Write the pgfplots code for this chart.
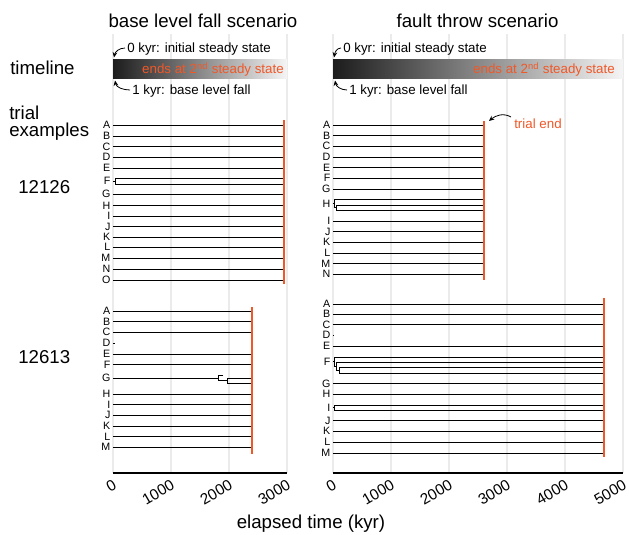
\documentclass[border=0pt]{standalone}
\usepackage{fontspec}
\setmainfont{Liberation Sans}
\usepackage{pgfplots}
\pgfplotsset{compat=1.18}
\usetikzlibrary{arrows.meta}
\definecolor{tlred}{RGB}{240,88,40}
\definecolor{gridgray}{RGB}{235,235,235}
\definecolor{tldark}{RGB}{28,28,28}
\definecolor{tllight}{RGB}{245,245,245}
\newcommand{\bigf}{\fontsize{14}{16}\selectfont}
\newcommand{\annf}{\fontsize{10}{12}\selectfont}
\pgfplotsset{
 panel/.style={scale only axis, anchor=north west, height=329.25pt, ymin=-473, ymax=-34,
  axis x line=bottom, axis y line=left, axis line style={-},
  x axis line style={line width=1.5pt}, y axis line style={draw=none},
  xmajorgrids, grid style={gridgray, line width=1.1pt},
  major tick length=0pt, tick style={draw=none},
  xticklabel style={font=\fontsize{11.5}{13}\selectfont, inner sep=0pt, xshift=1.6pt, yshift=-8pt, rotate=30, anchor=east},
  yticklabel style={font=\fontsize{8}{8}\selectfont, inner sep=0pt, xshift=-1.8pt, anchor=east},
 },
 br/.style={black, line width=0.7pt, mark=none},
 rl/.style={tlred, line width=1.9pt, mark=none},
}
\begin{document}
\begin{tikzpicture}[x=0.75pt,y=0.75pt]
\useasboundingbox (0,0) rectangle (629,-535);
% ---------------- left column: base level fall ----------------
\begin{axis}[panel, at={(84.75pt,-25.5pt)}, width=130.5pt, xmin=0, xmax=3000,
  xtick={0,1000,2000,3000}, xticklabels={0,1000,2000,3000},
  ytick={-125,-136,-146.7,-157.3,-168.3,-181.3,-194.3,-205.7,-216,-226.7,-237,-247.3,-258.3,-269.3,-280,
         -311,-321.7,-332.3,-343,-354,-364.7,-378,-394,-404.7,-415.3,-426,-436.7,-447.3},
  yticklabels={A,B,C,D,E,F,G,H,I,J,K,L,M,N,O,A,B,C,D,E,F,G,H,I,J,K,L,M}]
\addplot[draw=none, left color=tldark, right color=tllight] coordinates {(0,-60)(3000,-60)(3000,-79)(0,-79)};
% 12126
\addplot[br, xcomb] coordinates {(2950,-125)(2950,-136)(2950,-146.7)(2950,-157.3)(2950,-168.3)(40,-181.3)(2950,-194.3)(2950,-205.7)(2950,-216)(2950,-226.7)(2950,-237)(2950,-247.3)(2950,-258.3)(2950,-269.3)(2950,-280)};
\addplot[br] coordinates {(2950,-178.7)(40,-178.7)(40,-184)(2950,-184)};
\addplot[rl] coordinates {(2950,-120)(2950,-284)};
% 12613
\addplot[br, xcomb] coordinates {(2400,-311)(2400,-321.7)(2400,-332.3)(30,-343)(2400,-354)(2400,-364.7)(1810,-378)(2400,-394)(2400,-404.7)(2400,-415.3)(2400,-426)(2400,-436.7)(2400,-447.3)};
\addplot[br] coordinates {(1900,-375.3)(1810,-375.3)(1810,-380.7)(1970,-380.7)};
\addplot[br] coordinates {(2400,-378)(1970,-378)(1970,-383.3)(2400,-383.3)};
\addplot[rl] coordinates {(2400,-307)(2400,-454)};
\end{axis}
% ---------------- right column: fault throw ----------------
\begin{axis}[panel, at={(249.75pt,-25.5pt)}, width=217.5pt, xmin=0, xmax=5000,
  xtick={0,1000,2000,3000,4000,5000}, xticklabels={0,1000,2000,3000,4000,5000},
  ytick={-125,-135.7,-146.3,-157,-167.7,-178.3,-189,-203.7,-221,-231.7,-242.3,-253,-263.7,-274.3,
         -304,-314.3,-324.7,-335,-346,-361.7,-383.7,-394.3,-407.65,-420.7,-431.3,-442,-453},
  yticklabels={A,B,C,D,E,F,G,H,I,J,K,L,M,N,A,B,C,D,E,F,G,H,I,J,K,L,M}]
\addplot[draw=none, left color=tldark, right color=tllight] coordinates {(0,-60)(5000,-60)(5000,-79)(0,-79)};
% 12126
\addplot[br, xcomb] coordinates {(2600,-125)(2600,-135.7)(2600,-146.3)(2600,-157)(2600,-167.7)(2600,-178.3)(2600,-189)(22,-203.7)(2600,-221)(2600,-231.7)(2600,-242.3)(2600,-253)(2600,-263.7)(2600,-274.3)};
\addplot[br] coordinates {(2600,-199.7)(22,-199.7)(22,-207.65)(52,-207.65)};
\addplot[br] coordinates {(2600,-205)(52,-205)(52,-210.3)(2600,-210.3)};
\addplot[rl] coordinates {(2600,-121)(2600,-280)};
% 12613
\addplot[br, xcomb] coordinates {(4670,-304)(4670,-314.3)(4670,-324.7)(20,-335)(4670,-346)(22,-361.7)(4670,-383.7)(4670,-394.3)(22,-407.65)(4670,-420.7)(4670,-431.3)(4670,-442)(4670,-453)};
\addplot[br] coordinates {(4670,-357)(22,-357)(22,-366.35)(62,-366.35)};
\addplot[br] coordinates {(4670,-362.3)(62,-362.3)(62,-370.35)(105,-370.35)};
\addplot[br] coordinates {(4670,-367.7)(105,-367.7)(105,-373)(4670,-373)};
\addplot[br] coordinates {(4670,-405)(22,-405)(22,-410.3)(4670,-410.3)};
\addplot[rl] coordinates {(4670,-298)(4670,-457)};
\end{axis}
% ---------------- texts ----------------
\begin{scope}[every node/.style={inner sep=0pt}]
\node[anchor=base, font=\bigf] at (203,-28) {base level fall scenario};
\node[anchor=base, font=\bigf] at (477.5,-28) {fault throw scenario};
\node[anchor=base west, font=\bigf] at (10,-75) {timeline};
\node[anchor=base west, font=\bigf] at (9,-120) {trial};
\node[anchor=base west, font=\bigf] at (9,-137) {examples};
\node[anchor=base west, font=\bigf] at (18,-193.5) {12126};
\node[anchor=base west, font=\bigf] at (18,-363.5) {12613};
\node[anchor=base, font=\bigf] at (311,-528) {elapsed time (kyr)};
\node[anchor=base west, font=\annf] at (127,-53) {0 kyr: initial steady state};
\node[anchor=base west, font=\annf] at (132,-94) {1 kyr: base level fall};
\node[anchor=base west, font=\annf] at (343,-53) {0 kyr: initial steady state};
\node[anchor=base west, font=\annf] at (349,-94) {1 kyr: base level fall};
\node[anchor=base east, font=\annf, text=tlred] at (284,-74) {ends at 2\textsuperscript{nd} steady state};
\node[anchor=base east, font=\annf, text=tlred] at (615,-74) {ends at 2\textsuperscript{nd} steady state};
\node[anchor=base west, font=\annf, text=tlred] at (514,-129) {trial end};
\end{scope}
\begin{scope}[line width=0.6pt, -{Stealth[length=4pt,width=3.5pt]}]
\draw (125,-48) to[out=180,in=80] (114,-57.5);
\draw (130,-90) to[out=180,in=-80] (115,-80.5);
\draw (341,-48) to[out=180,in=80] (334,-57.5);
\draw (347,-90) to[out=180,in=-80] (335,-80.5);
\draw (511,-117) to[out=150,in=40] (489,-121);
\end{scope}
\end{tikzpicture}
\end{document}
